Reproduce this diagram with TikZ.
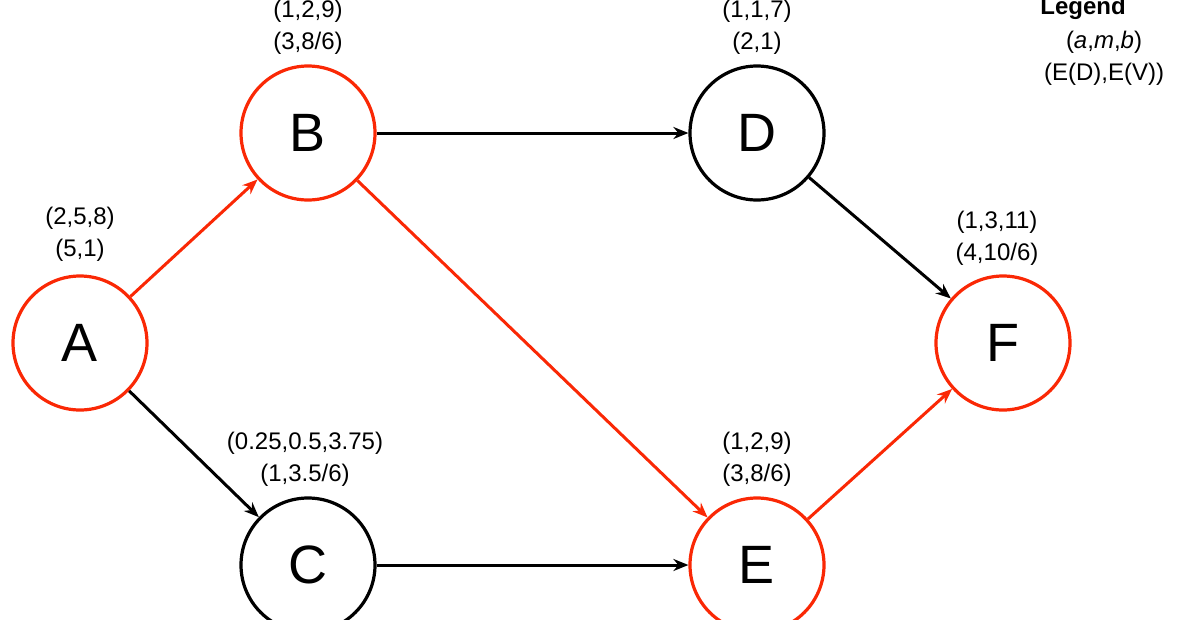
\documentclass[tikz,border=0pt]{standalone}
\usepackage{fontspec}
\setmainfont{Liberation Sans}
\usetikzlibrary{arrows.meta}
\definecolor{cr}{RGB}{250,40,5}
\begin{document}
\begin{tikzpicture}[x=1pt,y=-1pt,
 n/.style={circle,draw,line width=3.2pt,minimum size=134pt,inner sep=0pt,font=\fontsize{54}{54}\selectfont},
 red/.style={draw=cr},
 e/.style={line width=3pt,-{Stealth[length=15pt,width=12pt]}},
 re/.style={e,draw=cr,cr},
 lb/.style={font=\fontsize{24}{32}\selectfont,align=center}]
\useasboundingbox (0,0) rectangle (1179,619);
\node[n,red] (A) at (80,343) {A};
\node[n,red] (B) at (308,133) {B};
\node[n] (D) at (757,133) {D};
\node[n,red] (F) at (1003,343) {F};
\node[n] (C) at (308,565) {C};
\node[n,red] (E) at (757,565) {E};
\draw[re] (A) -- (B);
\draw[e] (B) -- (D);
\draw[re] (B) -- (E);
\draw[e] (A) -- (C);
\draw[e] (C) -- (E);
\draw[e] (D) -- (F);
\draw[re] (E) -- (F);
\node[lb] (lB) at (308,27) {(1,2,9)\\(3,8/6)};
\node[lb] (lD) at (757,27) {(1,1,7)\\(2,1)};
\node[lb] (lA) at (80,234) {(2,5,8)\\(5,1)};
\node[lb] (lF) at (997,238) {(1,3,11)\\(4,10/6)};
\node[lb] (lC) at (305,459) {(0.25,0.5,3.75)\\(1,3.5/6)};
\node[lb] (lE) at (757,459) {(1,2,9)\\(3,8/6)};
\node[lb,font=\fontsize{24}{32}\selectfont\bfseries] (lg) at (1083,8) {Legend};
\node[lb] (lg2) at (1104,58) {(\textit{a},\textit{m},\textit{b})\\(E(D),E(V))};
\end{tikzpicture}
\end{document}
